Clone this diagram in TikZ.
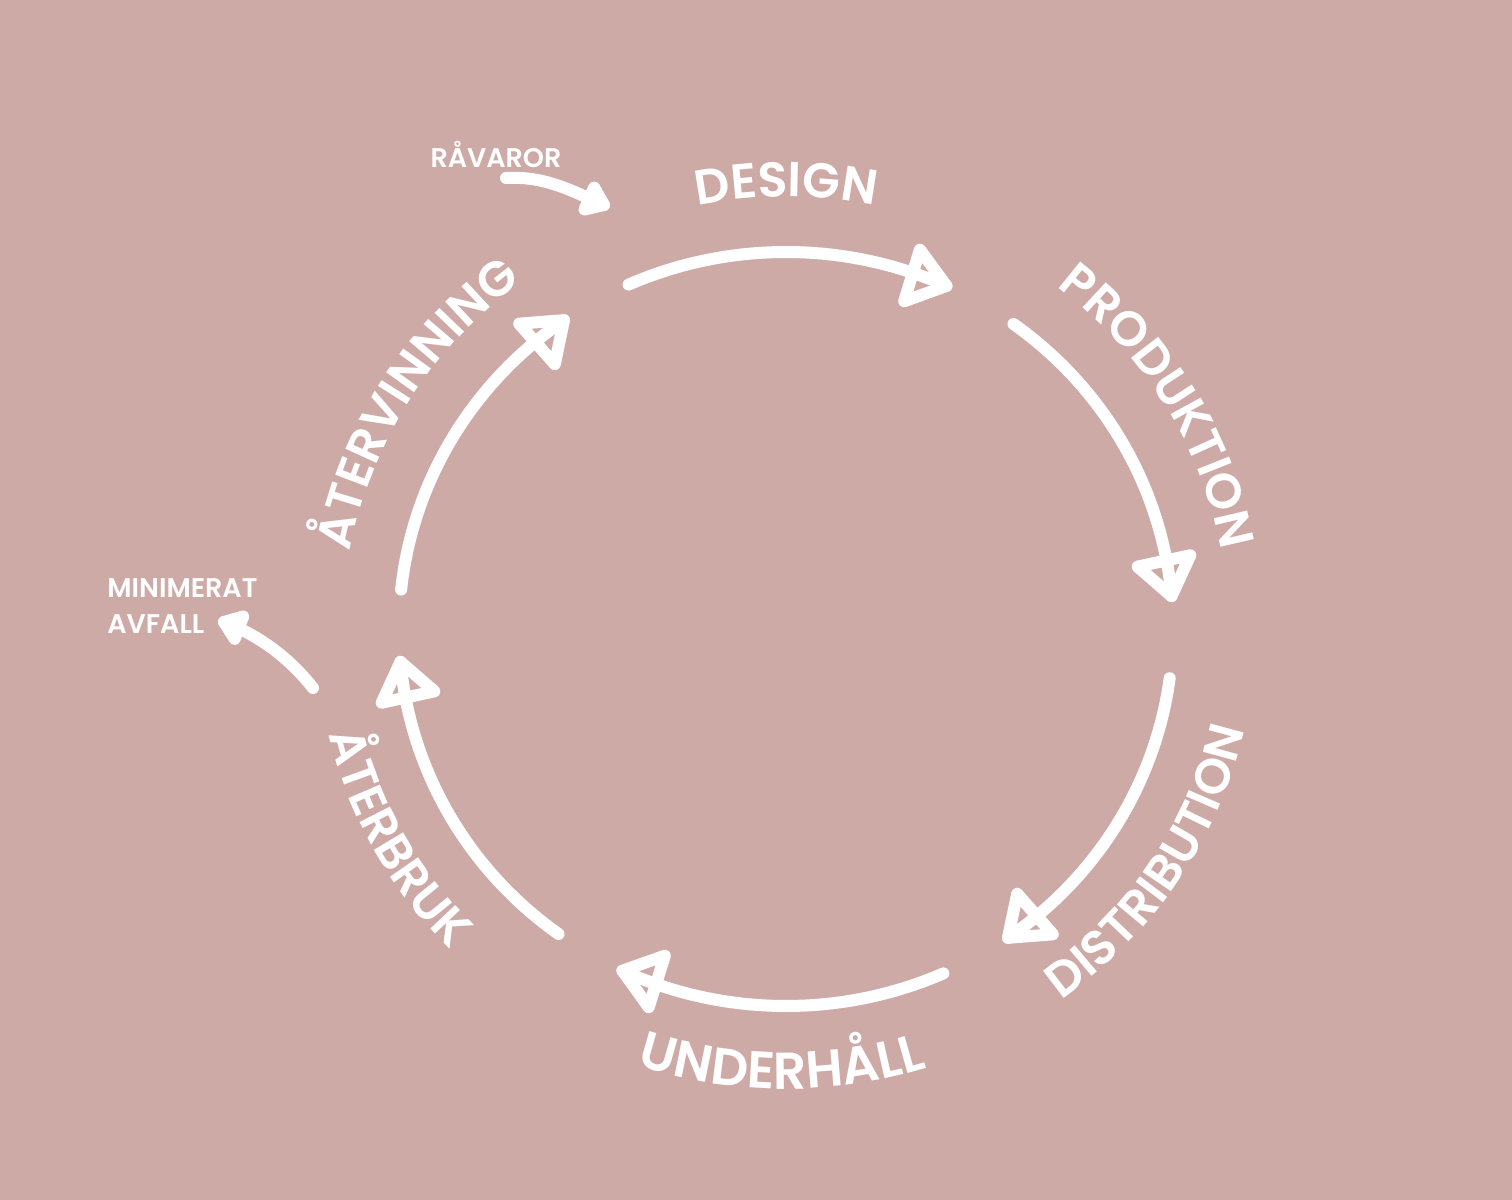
\documentclass[tikz,border=0pt]{standalone}
\usepackage{fontspec}
\newfontfamily\popfont{Poppins}[BoldFont={Poppins SemiBold}]
\usetikzlibrary{decorations.markings,decorations.text}
\definecolor{bgpink}{RGB}{206,170,167}
\newcommand\biglbl{\popfont\bfseries\fontsize{24.5}{30}\selectfont}
\newcommand\widelbl{\popfont\bfseries\fontsize{26}{30}\selectfont}
\newcommand\smalllbl{\popfont\bfseries\fontsize{13.5}{18}\selectfont}
\tikzset{
  arcline/.style={line width=6pt, draw=white, line cap=round,
    postaction={decorate},
    decoration={markings, mark=at position 1 with {
      \draw[line width=6pt, line join=round, white, rotate=7] (0,0) -- (-36,27) -- (-36,-27) -- cycle;}}},
  smallarrow/.style={line width=6pt, draw=white, line cap=round,
    postaction={decorate},
    decoration={markings, mark=at position 1 with {
      \filldraw[line width=6pt, line join=round, white] (0,0) -- (-16,12) -- (-16,-12) -- cycle;}}},
  toplabel/.style={decorate, decoration={text along path, text align=center, text color=white, text={|\biglbl|#1}}},
  widelabel/.style={decorate, decoration={text along path, text align=center, text color=white, text={|\widelbl|#1}}},
  smalltext/.style={text=white, font=\smalllbl, inner sep=0pt}
}
\begin{document}
\begin{tikzpicture}[x=0.5pt, y=0.5pt]
\fill[bgpink] (0,0) rectangle (1512,1200);
\useasboundingbox (0,0) rectangle (1512,1200);
\coordinate (C) at (786,571);
% cycle arcs
\foreach \s/\e [count=\i] in {114/65.5, 54/5, -7.5/-55, -66/-115, -126/-175, 174/125}{
  \path (C) ++(\s:387 and 377) coordinate (a\i);
  \draw[arcline] (a\i) arc[start angle=\s, end angle=\e, x radius=387, y radius=377];
}
% top labels (clockwise, tops outward)
\foreach \c/\t [count=\i] in {90/DESIGN, 31/PRODUKTION, 148.5/ÅTERVINNING}{
  \path (C) ++(\c+60:443 and 432) coordinate (t\i);
  \path[toplabel=\t] (t\i) arc[start angle=\c+60, end angle=\c-60, x radius=443, y radius=432];
}
% bottom labels (counterclockwise, tops inward)
\foreach \c/\t [count=\i] in {-33/DISTRIBUTION, -151.5/ÅTERBRUK}{
  \path (C) ++(\c-60:470 and 458) coordinate (b\i);
  \path[toplabel=\t] (b\i) arc[start angle=\c-60, end angle=\c+60, x radius=470, y radius=458];
}
\path (C) ++(-150.5:470 and 460) coordinate (b3);
\path[widelabel=UNDERHÅLL] (b3) arc[start angle=-150.5, end angle=-30.5, x radius=470, y radius=460];
% input / output
\node[smalltext] (rav) at (496,1046) {RÅVAROR};
\node[smalltext, anchor=north west, align=left] (min) at (107,622) {MINIMERAT\\AVFALL};
\coordinate (rs) at (506,1022);
\coordinate (re) at (604,995);
\draw[smallarrow] (rs) .. controls (545,1024) and (570,1010) .. (re);
\coordinate (ms) at (313,512);
\coordinate (me) at (224,578);
\draw[smallarrow] (ms) .. controls (295,535) and (266,562) .. (me);
\end{tikzpicture}
\end{document}
